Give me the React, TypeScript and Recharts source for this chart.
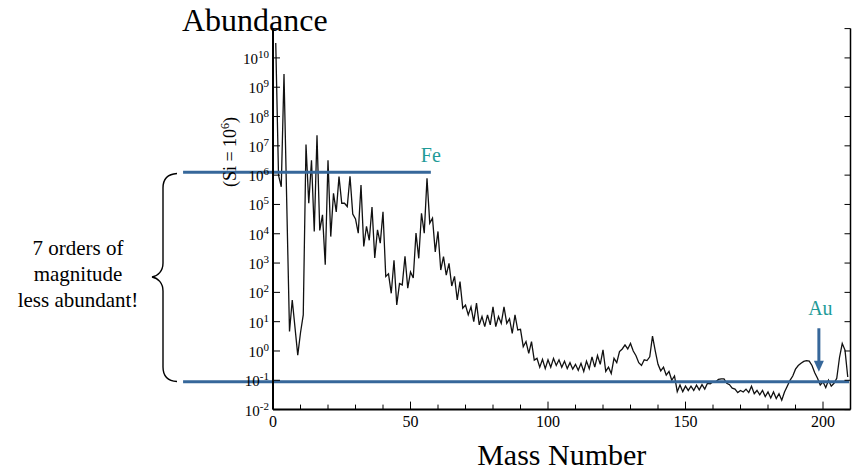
// Solar system abundances by mass number (Si = 10^6), log scale
import React from 'react';
import { LineChart, Line, XAxis, YAxis, ReferenceLine, Label } from 'recharts';

// [mass number, abundance]
const lightNuclei: [number, number][] = [
    [1, 3.2e10], [2, 1.0e6], [3, 4.0e5], [4, 2.8e9], [6, 4.6], [7, 55], [9, 0.72], [10, 4.2],
    [11, 17], [12, 1.1e7], [13, 1.1e5], [14, 3.2e6], [15, 1.2e4], [16, 2.3e7], [17, 1.3e4],
    [18, 4.4e4], [19, 870], [20, 3.2e6], [21, 8.0e3], [22, 2.4e5], [23, 5.6e4], [24, 8.9e5],
    [25, 1.1e5], [26, 1.1e5], [27, 8.5e4], [28, 9.2e5], [29, 4.7e4], [30, 3.2e4]
];

const ironPeak: [number, number][] = [
    [31, 1.05e4], [32, 4.6e5], [33, 3.7e3], [34, 1.8e4], [35, 6.0e3], [36, 8.1e4], [37, 1.5e3],
    [38, 1.35e4], [39, 4.8e3], [40, 5.6e4], [41, 350], [42, 430], [43, 93], [44, 1.25e3],
    [45, 37], [46, 200], [47, 180], [48, 1.7e3], [49, 140], [50, 500], [51, 310], [52, 1.05e4],
    [53, 1.45e3], [54, 5.0e4], [55, 1.05e4], [56, 7.8e5], [57, 2.3e4], [58, 3.4e4], [59, 2.4e3],
    [60, 1.2e4]
];

const middleNuclei: [number, number][] = [
    [61, 580], [62, 1.65e3], [63, 390], [64, 980], [65, 165], [66, 350], [67, 55], [68, 235],
    [69, 29], [70, 37], [71, 17], [72, 32], [73, 10], [74, 43], [75, 7.8], [76, 15], [77, 6.8],
    [78, 17], [79, 7.8], [80, 32], [81, 6.8], [82, 15], [83, 8.7], [84, 32], [85, 8.7],
    [86, 12.6], [87, 4.0], [88, 17], [89, 5.2], [90, 5.5]
];

const heavyNuclei: [number, number][] = [
    [91, 1.4], [92, 2.1], [93, 0.83], [94, 2.1], [95, 0.49], [96, 0.56], [97, 0.28], [98, 0.52],
    [99, 0.25], [100, 0.5], [101, 0.28], [102, 0.56], [103, 0.32], [104, 0.5], [105, 0.28],
    [106, 0.45], [107, 0.25], [108, 0.4], [109, 0.24], [110, 0.35], [111, 0.22], [112, 0.38],
    [113, 0.2], [114, 0.45], [115, 0.25], [116, 0.63], [117, 0.28], [118, 0.7], [119, 0.35],
    [120, 1.1], [121, 0.2], [122, 0.28], [123, 0.17], [124, 0.56], [125, 0.4], [126, 0.95],
    [127, 1.17], [128, 1.6], [129, 1.17], [130, 1.8], [131, 1.0], [132, 0.69], [133, 0.4],
    [134, 0.32], [135, 0.5], [136, 0.47], [137, 0.63], [138, 3.2], [139, 1.0], [140, 0.35],
    [141, 0.21], [142, 0.28], [143, 0.15], [144, 0.2], [145, 0.1], [146, 0.14], [147, 0.041],
    [148, 0.069], [149, 0.041], [150, 0.063]
];

const rareEarthAndLead: [number, number][] = [
    [151, 0.045], [152, 0.063], [153, 0.045], [154, 0.068], [155, 0.047], [156, 0.071],
    [157, 0.05], [158, 0.079], [159, 0.076], [160, 0.089], [161, 0.089], [162, 0.107],
    [163, 0.112], [164, 0.112], [165, 0.079], [166, 0.071], [167, 0.054], [168, 0.05],
    [169, 0.038], [170, 0.045], [171, 0.04], [172, 0.05], [173, 0.038], [174, 0.063],
    [175, 0.035], [176, 0.045], [177, 0.032], [178, 0.045], [179, 0.028], [180, 0.04],
    [181, 0.025], [182, 0.04], [183, 0.024], [184, 0.035], [185, 0.021], [186, 0.04],
    [187, 0.063], [188, 0.1], [189, 0.14], [190, 0.24], [191, 0.32], [192, 0.38], [193, 0.44],
    [194, 0.47], [195, 0.45], [196, 0.32], [197, 0.18], [198, 0.117], [199, 0.069], [200, 0.089],
    [201, 0.056], [202, 0.1], [203, 0.063], [204, 0.079], [205, 0.117], [206, 0.6], [207, 1.8],
    [208, 1.07], [209, 0.13]
];

const xTicks = [0, 10, 20, 30, 40, 50, 60, 70, 80, 90, 100, 110, 120, 130, 140, 150, 160, 170, 180, 190, 200];
const yTicks = [1e-2, 1e-1, 1, 1e1, 1e2, 1e3, 1e4, 1e5, 1e6, 1e7, 1e8, 1e9, 1e10, 1e11];

// annotation levels
const feLevel = 1.25e6;
const feMass = 57.4;
const lowLevel = 0.09;
const auMass = 198.5;
const arrowTop = 5.96;
const arrowTip = 0.197;
const lineStart = -32.7;
const lineEnd = 209.5;

const data = [...lightNuclei, ...ironPeak, ...middleNuclei, ...heavyNuclei, ...rareEarthAndLead]
    .map(([mass, value]) => ({ mass, value }));

const SERIF = "'Liberation Serif', Tinos, 'Times New Roman', Times, 'DejaVu Serif', serif";
const BLUE = '#36679a';
const TEAL = '#1f9b98';

const PLOT_LEFT = 273;
const PLOT_RIGHT = 850.5;
const PLOT_TOP = 28.6;
const PLOT_BOTTOM = 409.6;

const serifText = { fontFamily: SERIF };

const LeftTick = ({ y, payload }: any) => {
    const exp = Math.round(Math.log10(payload.value));
    return (
        <g>
            <line x1={PLOT_LEFT} x2={PLOT_LEFT + 7} y1={y} y2={y} stroke="#000" strokeWidth={1} />
            {exp <= 10 && (
                <text x={PLOT_LEFT - 4} y={y + 6} textAnchor="end" style={serifText} fontSize={15} fill="#000">
                    10<tspan dy={-6} fontSize={11}>{exp}</tspan>
                </text>
            )}
        </g>
    );
};

const RightTick = ({ y }: any) => (
    <line x1={PLOT_RIGHT - 6} x2={PLOT_RIGHT} y1={y} y2={y} stroke="#000" strokeWidth={1} />
);

const BottomTick = ({ x, payload }: any) => {
    const major = payload.value % 50 === 0;
    return (
        <g>
            <line x1={x} x2={x} y1={PLOT_BOTTOM} y2={PLOT_BOTTOM - (major ? 8 : 5)} stroke="#000" strokeWidth={1} />
            {major && (
                <text x={x} y={PLOT_BOTTOM + 17} textAnchor="middle" style={serifText} fontSize={16} fill="#000">
                    {payload.value}
                </text>
            )}
        </g>
    );
};

const TopTick = ({ x, payload }: any) => {
    const major = payload.value % 50 === 0;
    return <line x1={x} x2={x} y1={PLOT_TOP} y2={PLOT_TOP + (major ? 7 : 4)} stroke="#000" strokeWidth={1} />;
};

const FeLine = ({ x1, y1, x2, y2 }: any) => (
    <g>
        <line x1={x1} y1={y1} x2={x2} y2={y2} stroke={BLUE} strokeWidth={3} />
        <text x={x2} y={y1 - 10} textAnchor="middle" style={serifText} fontSize={20} fill={TEAL}>Fe</text>
    </g>
);

const LowLine = ({ x1, y1, x2, y2 }: any) => (
    <line x1={x1} y1={y1} x2={x2} y2={y2} stroke={BLUE} strokeWidth={3} />
);

const AuArrow = ({ x1, y1, x2, y2 }: any) => {
    const top = Math.min(y1, y2);
    const tip = Math.max(y1, y2);
    return (
        <g>
            <line x1={x1} y1={top} x2={x2} y2={tip - 9} stroke={BLUE} strokeWidth={3} />
            <polygon points={`${x2 - 5},${tip - 11} ${x2 + 5},${tip - 11} ${x2},${tip}`} fill={BLUE} />
            <text x={x1 + 1.5} y={top - 13} textAnchor="middle" style={serifText} fontSize={20} fill={TEAL}>Au</text>
        </g>
    );
};

const App: React.FC = () => {
    return (
        <div style={{ position: 'absolute', left: 0, top: 0, width: 857, height: 473, background: '#fff', fontFamily: SERIF }}>
            <div style={{ position: 'absolute', left: 0, top: 0 }}>
                <LineChart
                    width={857}
                    height={473}
                    data={data}
                    margin={{ top: PLOT_TOP, right: 0, bottom: 0, left: 0 }}
                >
                    <XAxis
                        dataKey="mass"
                        type="number"
                        domain={[0, 210]}
                        ticks={xTicks}
                        interval={0}
                        height={473 - PLOT_BOTTOM}
                        axisLine={{ stroke: '#000', strokeWidth: 2 }}
                        tickLine={false}
                        tick={(p: any) => <BottomTick {...p} />}
                    >
                        <Label
                            value="Mass Number"
                            position="insideBottom"
                            offset={8}
                            style={{ fontFamily: SERIF, fontSize: 30, fill: '#000' }}
                        />
                    </XAxis>
                    <XAxis
                        xAxisId="top"
                        orientation="top"
                        dataKey="mass"
                        type="number"
                        domain={[0, 210]}
                        ticks={xTicks}
                        interval={0}
                        height={0}
                        axisLine={{ stroke: '#000', strokeWidth: 2 }}
                        tickLine={false}
                        tick={(p: any) => <TopTick {...p} />}
                    />
                    <YAxis
                        scale="log"
                        type="number"
                        domain={[1e-2, 1e11]}
                        ticks={yTicks}
                        interval={0}
                        allowDataOverflow
                        width={PLOT_LEFT}
                        axisLine={{ stroke: '#000', strokeWidth: 2 }}
                        tickLine={false}
                        tick={(p: any) => <LeftTick {...p} />}
                    />
                    <YAxis
                        yAxisId="right"
                        orientation="right"
                        scale="log"
                        type="number"
                        domain={[1e-2, 1e11]}
                        ticks={yTicks}
                        interval={0}
                        allowDataOverflow
                        width={857 - PLOT_RIGHT}
                        axisLine={{ stroke: '#000', strokeWidth: 1.5 }}
                        tickLine={false}
                        tick={(p: any) => <RightTick {...p} />}
                    />

                    <Line
                        dataKey="value"
                        type="linear"
                        stroke="#111"
                        strokeWidth={1.3}
                        dot={false}
                        isAnimationActive={false}
                    />

                    {/* Iron level */}
                    <ReferenceLine
                        segment={[{ x: lineStart, y: feLevel }, { x: feMass, y: feLevel }]}
                        ifOverflow="visible"
                        shape={(p: any) => <FeLine {...p} />}
                    />
                    {/* Gold level */}
                    <ReferenceLine
                        segment={[{ x: lineStart, y: lowLevel }, { x: lineEnd, y: lowLevel }]}
                        ifOverflow="visible"
                        shape={(p: any) => <LowLine {...p} />}
                    />
                    <ReferenceLine
                        segment={[{ x: auMass, y: arrowTop }, { x: auMass, y: arrowTip }]}
                        ifOverflow="visible"
                        shape={(p: any) => <AuArrow {...p} />}
                    />
                </LineChart>
            </div>

            {/* titles and the brace annotation */}
            <svg
                width={857}
                height={473}
                style={{ position: 'absolute', left: 0, top: 0, pointerEvents: 'none', fontFamily: SERIF }}
            >
                <text x={182} y={31} fontSize={32} fill="#000">Abundance</text>
                <text
                    x={236}
                    y={152}
                    transform="rotate(-90 236 152)"
                    textAnchor="middle"
                    fontSize={18}
                    fill="#000"
                >
                    (Si = 10<tspan dy={-7} fontSize={12}>6</tspan><tspan dy={7}>)</tspan>
                </text>
                <path
                    d="M 177 173.5 C 168 174, 163 178, 163 188 L 163 263 C 163 271, 158 276, 152 277 C 158 278, 163 283, 163 291 L 163 367 C 163 377, 168 381, 177 381.5"
                    fill="none"
                    stroke="#000"
                    strokeWidth={1.4}
                />
                <g fontSize={21} fill="#000" textAnchor="middle">
                    <text x={78} y={255}>7 orders of</text>
                    <text x={78} y={281}>magnitude</text>
                    <text x={78} y={307}>less abundant!</text>
                </g>
            </svg>
        </div>
    );
};

export default App;
